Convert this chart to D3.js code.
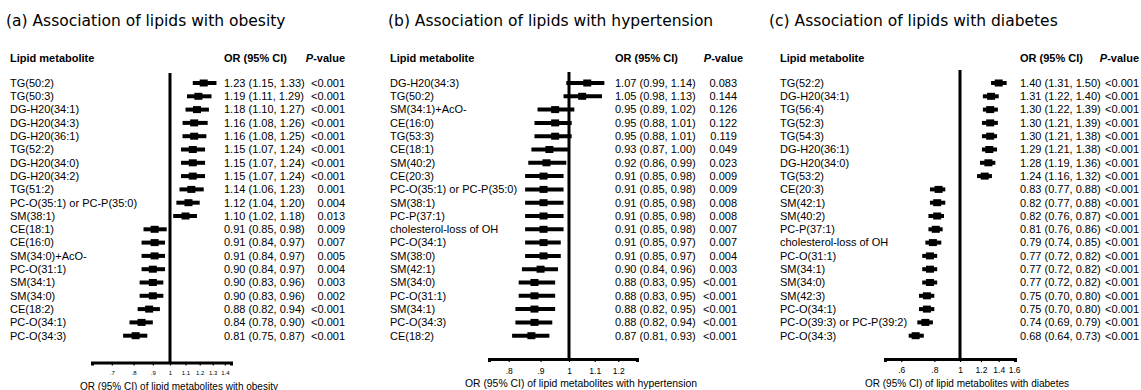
<!DOCTYPE html>
<html><head><meta charset="utf-8">
<script src="https://cdn.jsdelivr.net/npm/d3@7"></script>
<style>body{margin:0;background:#fff}svg{display:block}</style>
</head><body>
<script>
// ---------- data ----------
const obesityLipids = ["TG(50:2)","TG(50:3)","DG-H20(34:1)","DG-H20(34:3)","DG-H20(36:1)","TG(52:2)","DG-H20(34:0)","DG-H20(34:2)","TG(51:2)","PC-O(35:1) or PC-P(35:0)","SM(38:1)","CE(18:1)","CE(16:0)","SM(34:0)+AcO-","PC-O(31:1)","SM(34:1)","SM(34:0)","CE(18:2)","PC-O(34:1)","PC-O(34:3)"];
const obesityOR = [1.23,1.19,1.18,1.16,1.16,1.15,1.15,1.15,1.14,1.12,1.10,0.91,0.91,0.91,0.90,0.90,0.90,0.88,0.84,0.81];
const obesityLo = [1.15,1.11,1.10,1.08,1.08,1.07,1.07,1.07,1.06,1.04,1.02,0.85,0.84,0.84,0.84,0.83,0.83,0.82,0.78,0.75];
const obesityHi = [1.33,1.29,1.27,1.26,1.25,1.24,1.24,1.24,1.23,1.20,1.18,0.98,0.97,0.97,0.97,0.96,0.96,0.94,0.90,0.87];
const obesityP = ["<0.001","<0.001","<0.001","<0.001","<0.001","<0.001","<0.001","<0.001","0.001","0.004","0.013","0.009","0.007","0.005","0.004","0.003","0.002","<0.001","<0.001","<0.001"];
const obesityTicks = [0.7,0.8,0.9,1,1.1,1.2,1.3,1.4];
const obesityTickLabels = [".7",".8",".9","1","1.1","1.2","1.3","1.4"];

const hyperLipids = ["DG-H20(34:3)","TG(50:2)","SM(34:1)+AcO-","CE(16:0)","TG(53:3)","CE(18:1)","SM(40:2)","CE(20:3)","PC-O(35:1) or PC-P(35:0)","SM(38:1)","PC-P(37:1)","cholesterol-loss of OH","PC-O(34:1)","SM(38:0)","SM(42:1)","SM(34:0)","PC-O(31:1)","SM(34:1)","PC-O(34:3)","CE(18:2)"];
const hyperOR = [1.07,1.05,0.95,0.95,0.95,0.93,0.92,0.91,0.91,0.91,0.91,0.91,0.91,0.91,0.90,0.88,0.88,0.88,0.88,0.87];
const hyperLo = [0.99,0.98,0.89,0.88,0.88,0.87,0.86,0.85,0.85,0.85,0.85,0.85,0.85,0.85,0.84,0.83,0.83,0.82,0.82,0.81];
const hyperHi = [1.14,1.13,1.02,1.01,1.01,1.00,0.99,0.98,0.98,0.98,0.98,0.98,0.97,0.97,0.96,0.95,0.95,0.95,0.94,0.93];
const hyperP = ["0.083","0.144","0.126","0.122","0.119","0.049","0.023","0.009","0.009","0.008","0.008","0.007","0.007","0.004","0.003","<0.001","<0.001","<0.001","<0.001","<0.001"];
const hyperTicks = [0.8,0.9,1,1.1,1.2];
const hyperTickLabels = [".8",".9","1","1.1","1.2"];

const diabLipids = ["TG(52:2)","DG-H20(34:1)","TG(56:4)","TG(52:3)","TG(54:3)","DG-H20(36:1)","DG-H20(34:0)","TG(53:2)","CE(20:3)","SM(42:1)","SM(40:2)","PC-P(37:1)","cholesterol-loss of OH","PC-O(31:1)","SM(34:1)","SM(34:0)","SM(42:3)","PC-O(34:1)","PC-O(39:3) or PC-P(39:2)","PC-O(34:3)"];
const diabOR = [1.40,1.31,1.30,1.30,1.30,1.29,1.28,1.24,0.83,0.82,0.82,0.81,0.79,0.77,0.77,0.77,0.75,0.75,0.74,0.68];
const diabLo = [1.31,1.22,1.22,1.21,1.21,1.21,1.19,1.16,0.77,0.77,0.76,0.76,0.74,0.72,0.72,0.72,0.70,0.70,0.69,0.64];
const diabHi = [1.50,1.40,1.39,1.39,1.38,1.38,1.36,1.32,0.88,0.88,0.87,0.86,0.85,0.82,0.82,0.82,0.80,0.80,0.79,0.73];
const diabP = ["<0.001","<0.001","<0.001","<0.001","<0.001","<0.001","<0.001","<0.001","<0.001","<0.001","<0.001","<0.001","<0.001","<0.001","<0.001","<0.001","<0.001","<0.001","<0.001","<0.001"];
const diabTicks = [0.6,0.8,1,1.2,1.4,1.6];
const diabTickLabels = [".6",".8","1","1.2","1.4","1.6"];

const titles = ["(a) Association of lipids with obesity","(b) Association of lipids with hypertension","(c) Association of lipids with diabetes"];
const xTitles = ["OR (95% CI) of lipid metabolites with obesity","OR (95% CI) of lipid metabolites with hypertension","OR (95% CI) of lipid metabolites with diabetes"];

// ---------- layout ----------
const W = 1141, H = 390;
const svg = d3.select("body").append("svg").attr("width", W).attr("height", H);
const SANS = "'Liberation Sans', Arial, sans-serif";

const panels = [
  {lipids: obesityLipids, or: obesityOR, lo: obesityLo, hi: obesityHi, p: obesityP, ticks: obesityTicks, tickLabels: obesityTickLabels,
   titleX: 6, labelX: 10, orX: 224, pX: 345, pHX: 345, domain: [0.6197, 1.454], range: [92, 231], axisY: 362.5, tickFs: 6, tickY: 373, xtY: 386, xtX: 179, xtFs: 10, lineTop: 73},
  {lipids: hyperLipids, or: hyperOR, lo: hyperLo, hi: hyperHi, p: hyperP, ticks: hyperTicks, tickLabels: hyperTickLabels,
   titleX: 388, labelX: 390, orX: 615, pX: 737, pHX: 743, domain: [0.7436, 1.2864], range: [489, 637], axisY: 359, tickFs: 8.5, tickY: 371.5, xtY: 383, xtX: 581, xtFs: 10.4, lineTop: 72},
  {lipids: diabLipids, or: diabOR, lo: diabLo, hi: diabHi, p: diabP, ticks: diabTicks, tickLabels: diabTickLabels,
   titleX: 769, labelX: 780, orX: 1020, pX: 1139, pHX: 1139, domain: [0.521, 1.613], range: [885, 1015], axisY: 359, tickFs: 8.5, tickY: 370.5, xtY: 383, xtX: 967, xtFs: 10, lineTop: 70}
];

const rowY0 = 83, rowStep = 13.3;
const f2 = d3.format(".2f");

panels.forEach((P, pi) => {
  const g = svg.append("g");
  const x = d3.scaleLog().domain(P.domain).range(P.range);
  const y = i => rowY0 + i * rowStep;

  g.append("text").attr("x", P.titleX).attr("y", 26)
    .attr("font-family", "'DejaVu Sans', Verdana, sans-serif").attr("font-size", 15.5)
    .attr("fill", "#000").text(titles[pi]);

  const hdr = g.append("g").attr("font-family", SANS).attr("font-size", 11).attr("font-weight", "bold");
  hdr.append("text").attr("x", P.labelX).attr("y", 62).text("Lipid metabolite");
  hdr.append("text").attr("x", P.orX).attr("y", 62).text("OR (95% CI)");
  const pt = hdr.append("text").attr("x", P.pHX).attr("y", 62).attr("text-anchor", "end");
  pt.append("tspan").attr("font-style", "italic").text("P");
  pt.append("tspan").text("-value");

  // row texts
  const rows = g.append("g").attr("font-family", SANS).attr("font-size", 11).attr("fill", "#000");
  P.lipids.forEach((name, i) => {
    rows.append("text").attr("x", P.labelX).attr("y", y(i)).attr("dy", "0.35em").text(name);
    rows.append("text").attr("x", P.orX).attr("y", y(i)).attr("dy", "0.35em")
      .text(`${f2(P.or[i])} (${f2(P.lo[i])}, ${f2(P.hi[i])})`);
    rows.append("text").attr("x", P.pX).attr("y", y(i)).attr("dy", "0.35em").attr("text-anchor", "end").text(P.p[i]);
  });

  // reference line at OR = 1
  g.append("line").attr("x1", x(1)).attr("x2", x(1)).attr("y1", P.lineTop).attr("y2", P.axisY)
    .attr("stroke", "#000").attr("stroke-width", 3);

  // CIs and markers
  P.lipids.forEach((name, i) => {
    g.append("line").attr("x1", x(P.lo[i])).attr("x2", x(P.hi[i])).attr("y1", y(i)).attr("y2", y(i))
      .attr("stroke", "#000").attr("stroke-width", 4);
    g.append("rect").attr("x", x(P.or[i]) - 4).attr("y", y(i) - 3.5).attr("width", 8).attr("height", 7).attr("fill", "#000");
  });

  // axis
  const axis = d3.axisBottom(x).tickValues(P.ticks).tickFormat((d, i) => P.tickLabels[i]).tickSizeOuter(0).tickSize(3).tickPadding(2);
  const ag = g.append("g").attr("transform", `translate(0,${P.axisY})`).call(axis);
  ag.select(".domain").attr("stroke", "#000").attr("stroke-width", 3);
  ag.selectAll(".tick line").attr("stroke", "#000").attr("stroke-width", 1.2);
  ag.selectAll(".tick text").attr("font-family", SANS).attr("font-size", P.tickFs).attr("fill", "#000")
    .attr("y", null).attr("dy", null).attr("transform", `translate(0,${P.tickY - P.axisY})`).attr("dominant-baseline", "middle");

  g.append("text").attr("x", P.xtX).attr("y", P.xtY).attr("dy", "0.35em").attr("text-anchor", "middle")
    .attr("font-family", SANS).attr("font-size", P.xtFs).attr("fill", "#000").text(xTitles[pi]);
});
</script>
</body></html>
